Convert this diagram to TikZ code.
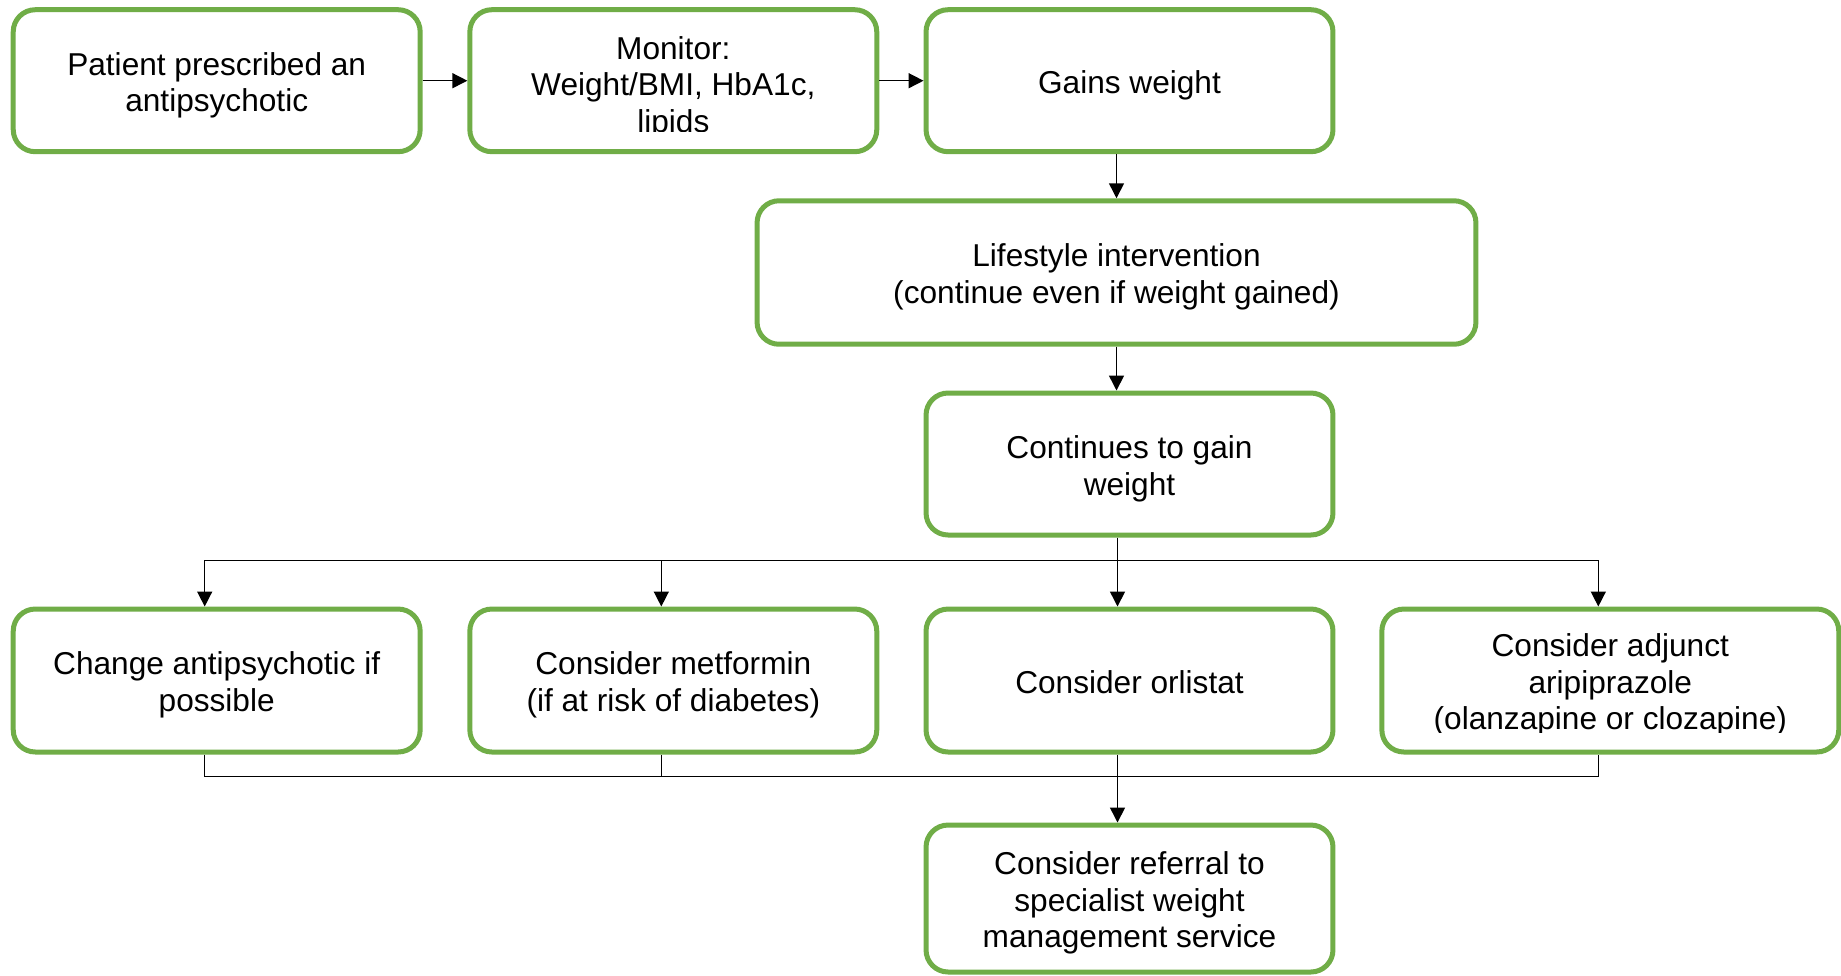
\documentclass[tikz,border=0pt]{standalone}
\usepackage{fontspec}
\setmainfont{Liberation Sans}
\usepackage{tikz}
\usepackage{xcolor}
\usetikzlibrary{arrows.meta}
\usetikzlibrary{calc}
\definecolor{boxgreen}{HTML}{70AD47}
\newcommand{\hstrut}{\rule{0pt}{19pt}}
\newcommand{\dstrut}{\rule[-4.5pt]{0pt}{4.5pt}}

\begin{document}
\begin{tikzpicture}[x=0.02cm, y=-0.02cm, >={Triangle[length=0.3cm,width=0.3cm]},
  box/.style={draw=boxgreen, line width=0.1cm, rounded corners=0.44cm, fill=white,
    minimum width=8.14cm, minimum height=2.84cm, align=center,
    font=\fontsize{18}{20.8}\selectfont},
  txt/.style={inner sep=0pt, align=center, font=\fontsize{18}{20.8}\selectfont},
  link/.style={line width=0.03cm, black}]
\useasboundingbox (0,0) rectangle (1841,975);

%Top row
\node[box] (patient) at (216.7, 80.7) {\hstrut Patient prescribed an\\antipsychotic\dstrut};
\node[box] (monitor) at (673.3, 80.7) {};
\begin{scope}
  \clip (monitor.north west) rectangle ([yshift=0.45cm]monitor.south east);
  \node[txt] (monitortxt) at ([yshift=-0.05cm]monitor.center) {\hstrut Monitor:\\Weight/BMI, HbA1c,\\lipids\dstrut};
\end{scope}
\node[box] (gains) at (1129.5, 80.7) {\hstrut Gains weight\dstrut};

%Middle
\node[box, minimum width=14.38cm, minimum height=2.87cm] (life) at (1116.5, 272.5)
  {\hstrut Lifestyle intervention\\(continue even if weight gained)\dstrut};
\node[box] (cont) at (1129.5, 464) {\hstrut Continues to gain\\weight\dstrut};

%Options
\node[box, minimum height=2.86cm] (change) at (216.7, 680.5) {\hstrut Change antipsychotic if\\possible\dstrut};
\node[box, minimum height=2.86cm] (metf) at (673.3, 680.5) {\hstrut Consider metformin\\(if at risk of diabetes)\dstrut};
\node[box, minimum height=2.86cm] (orl) at (1129.5, 680.5) {\hstrut Consider orlistat\dstrut};
\node[box, minimum height=2.86cm, minimum width=9.14cm] (adjunct) at (1610.3, 680.5) {};
\begin{scope}
  \clip (adjunct.north west) rectangle ([yshift=0.45cm]adjunct.south east);
  \node[txt] (adjuncttxt) at (adjunct.center)
    {\hstrut Consider adjunct\\aripiprazole\\(olanzapine or clozapine)\dstrut};
\end{scope}

%Referral
\node[box, minimum height=2.94cm] (refer) at (1129.5, 898.5)
  {\hstrut Consider referral to\\specialist weight\\management service\dstrut};

%Arrows
\draw[link,->] (patient.east) -- (monitor.west);
\draw[link,->] (monitor.east) -- (gains.west);
\draw[link,->] (gains.south -| life.north) -- (life.north);
\draw[link,->] (life.south) -- (life.south |- cont.north);

\coordinate (bushi) at (1117.5, 560.5);
\coordinate (buslo) at (1117.5, 776.5);
\draw[link,->] ([xshift=-0.24cm]cont.south) -- ([xshift=-0.24cm]orl.north);
\draw[link,->] (bushi) -| ([xshift=-0.24cm]change.north);
\draw[link,->] (bushi) -| ([xshift=-0.24cm]metf.north);
\draw[link,->] (bushi) -| ([xshift=-0.24cm]adjunct.north);

\draw[link] ([xshift=-0.24cm]change.south) |- (buslo) -| ([xshift=-0.24cm]adjunct.south);
\draw[link] ([xshift=-0.24cm]metf.south) -- ([xshift=-0.24cm]metf.south |- buslo);
\draw[link,->] ([xshift=-0.24cm]orl.south) -- ([xshift=-0.24cm]refer.north);
\end{tikzpicture}
\end{document}
